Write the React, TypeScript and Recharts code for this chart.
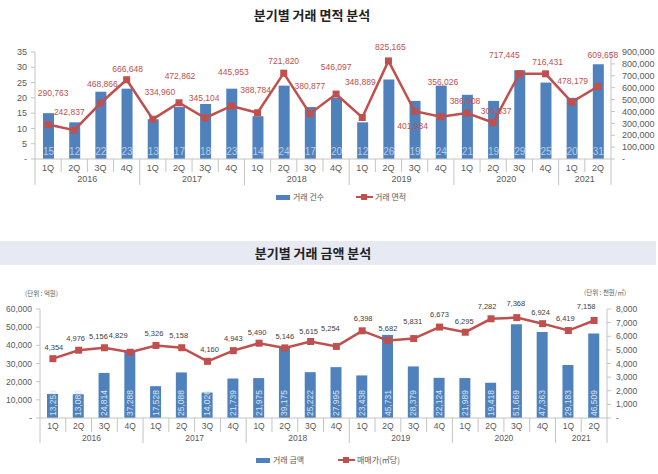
import React from "react";
import { ComposedChart, Bar, Line, XAxis, YAxis, LabelList } from "recharts";

const quarters = [
  "1Q", "2Q", "3Q", "4Q",
  "1Q", "2Q", "3Q", "4Q",
  "1Q", "2Q", "3Q", "4Q",
  "1Q", "2Q", "3Q", "4Q",
  "1Q", "2Q", "3Q", "4Q",
  "1Q", "2Q",
];
const years = [
  "2016", "2016", "2016", "2016",
  "2017", "2017", "2017", "2017",
  "2018", "2018", "2018", "2018",
  "2019", "2019", "2019", "2019",
  "2020", "2020", "2020", "2020",
  "2021", "2021",
];

// 거래 건수 / 거래 면적(㎡)
const dealCount = [15, 12, 22, 23, 13, 17, 18, 23, 14, 24, 17, 20, 12, 26, 19, 24, 21, 19, 29, 25, 20, 31];
const dealArea = [
  290763, 242837, 468866, 666648, 334960, 472862, 345104, 445953, 388784, 721820, 380877,
  546097, 348889, 825165, 401984, 356026, 386608, 306337, 717445, 716431, 478179, 609658,
];

// 거래 금액(억원) / 매매가(천원/㎡)
const dealAmount = [
  13253, 13089, 24814, 37288, 17528, 25088, 14026, 21739, 21975, 39175, 25222,
  27995, 23438, 45731, 28379, 22124, 21989, 19418, 51669, 47363, 29183, 46509,
];
const unitPrice = [
  4354, 4976, 5156, 4829, 5326, 5158, 4160, 4943, 5490, 5146, 5615,
  5254, 6398, 5682, 5831, 6673, 6295, 7282, 7368, 6924, 6419, 7158,
];

const countTicks = [0, 5, 10, 15, 20, 25, 30, 35];
const areaTicks = [0, 100000, 200000, 300000, 400000, 500000, 600000, 700000, 800000, 900000];
const amountTicks = [0, 10000, 20000, 30000, 40000, 50000, 60000];
const priceTicks = [0, 1000, 2000, 3000, 4000, 5000, 6000, 7000, 8000];

// label nudges (dx, dy from the marker), like the hand-placed labels of the original
const areaLabelNudge = [
  [5, -31], [-5, -18], [2, -19], [1, -11], [7, -27], [1, -27], [-1, -20], [2, -34],
  [-2, -23], [0, -12], [0, -28], [0, -27], [-2, -36], [2, -14], [-2, 15], [2, -35],
  [-2, -12], [3, -12], [-15, -19], [2, -12], [1, -21], [5, -32],
];
const priceLabelNudge = [
  [1, -11], [-3, -12], [-6, -11], [-12, -17], [-2, -12], [-3, -12], [2, -12], [0, -12],
  [-2, -11], [0, -11], [-2, -10], [-6, -18], [1, -12], [0, -12], [-1, -17], [0, -13],
  [-1, -11], [-4, -12], [-1, -14], [-2, -11], [-3, -12], [-8, -14],
];

const rows = quarters.map((q, i) => ({
  q,
  year: years[i],
  count: dealCount[i],
  area: dealArea[i],
  amount: dealAmount[i],
  price: unitPrice[i],
}));

const BLUE = "#4f81bd";
const RED = "#c0504d";
const AXIS = "#c4c4c4";
const TXT = "#595959";
const FONT = "'Liberation Sans Narrow', 'Liberation Sans', 'Noto Sans CJK KR', sans-serif";
const KFONT = "'Noto Sans CJK KR', 'Liberation Sans', sans-serif";

const fmt = (v: number) => (v === 0 ? "-" : v.toLocaleString("en-US"));

const makeTick = (fontSize: number, qDy: number, yDy: number, shortLen: number, longLen: number) =>
  (props: any) => {
    const { x, y, payload, index } = props;
    const half = payload && payload.offset ? payload.offset : 13;
    const yr = rows[index].year;
    let s = index;
    while (s > 0 && rows[s - 1].year === yr) s--;
    let e = index;
    while (e < rows.length - 1 && rows[e + 1].year === yr) e++;
    const mid = (s + e) / 2;
    const showYear = Math.floor(mid) === index;
    const yearX = x + (mid - index) * 2 * half;
    return (
      <g>
        <text x={x} y={y + qDy} textAnchor="middle" dominantBaseline="central" fontSize={fontSize} fill={TXT} fontFamily={FONT}>
          {payload.value}
        </text>
        <line x1={x - half} x2={x - half} y1={y} y2={y + (s === index ? longLen : shortLen)} stroke={AXIS} />
        {index === rows.length - 1 && (
          <line x1={x + half} x2={x + half} y1={y} y2={y + longLen} stroke={AXIS} />
        )}
        {showYear && (
          <text x={yearX} y={y + yDy} textAnchor="middle" dominantBaseline="central" fontSize={fontSize} fill={TXT} fontFamily={FONT}>
            {yr}
          </text>
        )}
      </g>
    );
  };

const squareDot = (props: any) => {
  const { cx, cy, index } = props;
  if (cx == null || cy == null) return <g key={index} />;
  return <rect key={index} x={cx - 3.5} y={cy - 3.5} width={7} height={7} fill={RED} />;
};

const nudgedLabel = (nudge: number[][], color: string, fontSize: number) => (props: any) => {
  const { x, y, value, index } = props;
  const [dx, dy] = nudge[index] || [0, -12];
  return (
    <text x={x + dx} y={y + dy} textAnchor="middle" dominantBaseline="central" fontSize={fontSize} fill={color} fontFamily={FONT}>
      {Number(value).toLocaleString("en-US")}
    </text>
  );
};

const countLabel = (props: any) => {
  const { x, y, width, height, value } = props;
  return (
    <text x={x + width / 2} y={y + height - 8} textAnchor="middle" dominantBaseline="central" fontSize={10} fill="#ffffff" fillOpacity={0.6} fontFamily={FONT}>
      {value}
    </text>
  );
};

const amountLabel = (props: any) => {
  const { x, y, width, height, value } = props;
  const cx = x + width / 2;
  const by = y + height - 2;
  return (
    <text x={cx} y={by} transform={`rotate(-90, ${cx}, ${by})`} textAnchor="start" dominantBaseline="central" fontSize={8.5} fill="#dbe5f1" fontFamily={FONT}>
      {Number(value).toLocaleString("en-US")}
    </text>
  );
};

const LegendItems = ({ top, barLeft, barText, lineLeft, lineText }: any) => (
  <>
    <div style={{ position: "absolute", top: top - 2, left: barLeft, width: 14, height: 5, background: BLUE }} />
    <div style={{ position: "absolute", top: top - 6, left: barLeft + 17, fontSize: 8, lineHeight: "12px", color: TXT, fontFamily: KFONT }}>
      {barText}
    </div>
    <div style={{ position: "absolute", top: top - 1, left: lineLeft, width: 17, height: 2, background: RED }} />
    <div style={{ position: "absolute", top: top - 3, left: lineLeft + 5, width: 6, height: 6, background: RED }} />
    <div style={{ position: "absolute", top: top - 6, left: lineLeft + 19, fontSize: 8, lineHeight: "12px", color: TXT, fontFamily: KFONT }}>
      {lineText}
    </div>
  </>
);

export default function App() {
  return (
    <div style={{ position: "absolute", left: 0, top: 0, width: 658, height: 474, background: "#fff", overflow: "hidden" }}>
      <div style={{ position: "absolute", top: 6, left: 0, width: 624, textAlign: "center", fontSize: 13, fontWeight: 700, lineHeight: "18px", color: "#222", fontFamily: KFONT }}>
        분기별 거래 면적 분석
      </div>

      <div style={{ position: "absolute", top: 0, left: 0 }}>
        <ComposedChart width={658} height={200} data={rows} margin={{ top: 52, right: 0, left: 0, bottom: 11 }}>
          <XAxis dataKey="q" height={30} interval={0} tickLine={false} tickSize={0} tickMargin={0} axisLine={{ stroke: AXIS }} tick={makeTick(9, 9, 20, 13, 26)} />
          <YAxis yAxisId="left" width={35} domain={[0, 35]} ticks={countTicks} interval={0} tickFormatter={fmt} tick={{ fontSize: 9, fill: TXT, fontFamily: FONT }} axisLine={{ stroke: AXIS }} tickLine={{ stroke: AXIS }} tickSize={4} tickMargin={4} />
          <YAxis yAxisId="right" orientation="right" width={47} domain={[0, 900000]} ticks={areaTicks} interval={0} tickFormatter={fmt} tick={{ fontSize: 9, fill: TXT, fontFamily: FONT }} axisLine={{ stroke: AXIS }} tickLine={{ stroke: AXIS }} tickSize={4} tickMargin={7} />
          <Bar yAxisId="left" dataKey="count" fill={BLUE} barSize={11} isAnimationActive={false}>
            <LabelList dataKey="count" content={countLabel} />
          </Bar>
          <Line yAxisId="right" dataKey="area" stroke={RED} strokeWidth={2.5} dot={squareDot} activeDot={false} isAnimationActive={false}>
            <LabelList dataKey="area" content={nudgedLabel(areaLabelNudge, RED, 8.5)} />
          </Line>
        </ComposedChart>
      </div>
      <LegendItems top={197} barLeft={276} barText="거래 건수" lineLeft={356} lineText="거래 면적" />

      <div style={{ position: "absolute", top: 241, left: 0, width: 656, height: 24, background: "#e7eaf3" }} />
      <div style={{ position: "absolute", top: 244, left: 0, width: 626, textAlign: "center", fontSize: 13, fontWeight: 700, lineHeight: "18px", color: "#222", fontFamily: KFONT }}>
        분기별 거래 금액 분석
      </div>
      <div style={{ position: "absolute", top: 288, left: 25, fontSize: 6.5, lineHeight: "10px", color: TXT, fontFamily: KFONT }}>
        (단위 : 억원)
      </div>
      <div style={{ position: "absolute", top: 287, left: 584, fontSize: 6.5, lineHeight: "10px", color: TXT, fontFamily: KFONT }}>
        (단위 : 천원/㎡)
      </div>

      <div style={{ position: "absolute", top: 270, left: 0 }}>
        <ComposedChart width={658} height={190} data={rows} margin={{ top: 39, right: 0, left: 0, bottom: 12 }}>
          <XAxis dataKey="q" height={30} interval={0} tickLine={false} tickSize={0} tickMargin={0} axisLine={{ stroke: AXIS }} tick={makeTick(8.5, 8, 20, 14, 25)} />
          <YAxis yAxisId="left" width={40} domain={[0, 60000]} ticks={amountTicks} interval={0} tickFormatter={fmt} tick={{ fontSize: 8.5, fill: TXT, fontFamily: FONT }} axisLine={{ stroke: AXIS }} tickLine={{ stroke: AXIS }} tickSize={4} tickMargin={4} />
          <YAxis yAxisId="right" orientation="right" width={51} domain={[0, 8000]} ticks={priceTicks} interval={0} tickFormatter={fmt} tick={{ fontSize: 8.5, fill: TXT, fontFamily: FONT }} axisLine={{ stroke: AXIS }} tickLine={{ stroke: AXIS }} tickSize={4} tickMargin={5} />
          <Bar yAxisId="left" dataKey="amount" fill={BLUE} barSize={11} isAnimationActive={false}>
            <LabelList dataKey="amount" content={amountLabel} />
          </Bar>
          <Line yAxisId="right" dataKey="price" stroke={RED} strokeWidth={2.5} dot={squareDot} activeDot={false} isAnimationActive={false}>
            <LabelList dataKey="price" content={nudgedLabel(priceLabelNudge, "#404040", 7.5)} />
          </Line>
        </ComposedChart>
      </div>
      <LegendItems top={460} barLeft={256} barText="거래 금액" lineLeft={338} lineText="매매가(㎡당)" />
    </div>
  );
}
